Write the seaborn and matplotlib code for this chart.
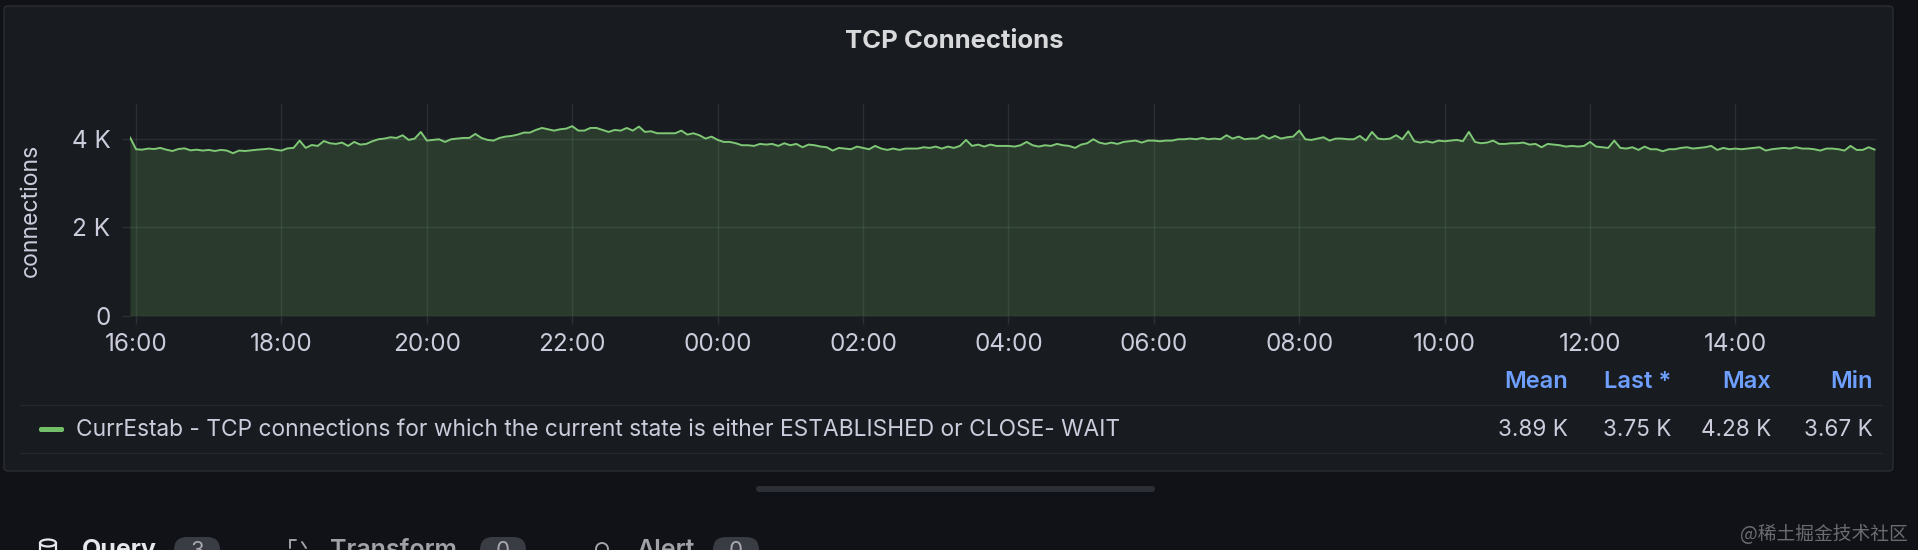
import pandas as pd
import seaborn as sns
import matplotlib.pyplot as plt
import matplotlib.dates as mdates
from matplotlib.patches import FancyBboxPatch, Ellipse, Circle
from matplotlib.lines import Line2D
from matplotlib.ticker import FuncFormatter

# CurrEstab, one value every 5 minutes (15:55 -> 15:55)
conn_evening = [4030, 3760, 3750, 3775, 3765, 3790, 3750, 3720, 3765, 3780,
                3735, 3750, 3730, 3745, 3720, 3745, 3730, 3670, 3730, 3720,
                3735, 3750, 3760, 3775, 3750, 3730, 3780, 3790, 3955, 3790,
                3855, 3835, 3945, 3895, 3880, 3910, 3835, 3925, 3865, 3880,
                3940, 3985, 4000, 4030, 4015, 4075, 3970, 4000]
conn_late = [4150, 3955, 3970, 3985, 3925, 3985, 4000, 4015, 4015, 4105,
             4015, 3970, 3955, 4015, 4045, 4060, 4090, 4135, 4135, 4195,
             4240, 4210, 4180, 4210, 4225, 4280, 4180, 4180, 4240, 4240,
             4195, 4150, 4195, 4180, 4240, 4180, 4270, 4150, 4165, 4120,
             4120, 4120, 4120, 4180, 4090, 4120, 4075, 4000]
conn_night = [4045, 3970, 3925, 3925, 3895, 3850, 3850, 3835, 3880, 3865,
              3880, 3835, 3895, 3850, 3880, 3805, 3865, 3850, 3820, 3805,
              3730, 3790, 3775, 3760, 3820, 3790, 3760, 3835, 3775, 3745,
              3775, 3745, 3775, 3775, 3775, 3805, 3790, 3820, 3775, 3820,
              3790, 3835, 3970, 3835, 3865, 3820, 3865, 3835]
conn_early = [3835, 3835, 3820, 3850, 3925, 3850, 3820, 3850, 3835, 3880,
              3850, 3835, 3790, 3865, 3895, 3985, 3910, 3880, 3910, 3880,
              3925, 3940, 3955, 3910, 3955, 3955, 3940, 3955, 3955, 3985,
              3985, 4000, 3985, 4015, 3985, 4000, 3985, 4075, 4000, 4045,
              3985, 4000, 4000, 4075, 4000, 4060, 4000, 4030]
conn_morning = [4045, 4180, 3985, 3970, 4000, 4030, 3955, 4000, 4000, 3985,
                3985, 4060, 3955, 4150, 4000, 3985, 4000, 4075, 3985, 4165,
                3940, 3910, 3940, 3910, 3955, 3940, 3955, 3970, 3940, 4150,
                3925, 3895, 3910, 3955, 3880, 3880, 3895, 3895, 3910, 3865,
                3880, 3805, 3880, 3865, 3850, 3820, 3835, 3820]
conn_midday = [3835, 3925, 3820, 3805, 3790, 3955, 3790, 3775, 3805, 3745,
               3820, 3760, 3760, 3715, 3760, 3760, 3790, 3805, 3775, 3790,
               3805, 3835, 3745, 3790, 3760, 3775, 3760, 3775, 3790, 3805,
               3730, 3760, 3775, 3790, 3775, 3805, 3775, 3775, 3760, 3730,
               3775, 3775, 3760, 3730, 3835, 3745, 3745, 3805, 3750]

series_name = "CurrEstab - TCP connections for which the current state is either ESTABLISHED or CLOSE- WAIT"
stat_labels = ["Mean", "Last *", "Max", "Min"]
stat_values = ["3.89 K", "3.75 K", "4.28 K", "3.67 K"]
y_ticks = [0, 2000, 4000]
tabs = ["Query", "Transform", "Alert"]
tab_counts = ["3", "0", "0"]

conn = conn_evening + conn_late + conn_night + conn_early + conn_morning + conn_midday
times = pd.date_range("2023-05-01 15:55", periods=len(conn), freq="5min")
df = pd.DataFrame({"time": times, "connections": conn})

BG = "#111217"
PANEL = "#181b1f"
BORDER = "#2a2d33"
TEXT = "#ccccdc"
GREEN = "#73bf69"
BLUE = "#6e9fff"

W, H = 1918, 550

sns.set_theme(style="dark", rc={"axes.facecolor": PANEL, "figure.facecolor": BG})
plt.rcParams["font.family"] = ["Inter", "Noto Sans CJK SC", "DejaVu Sans"]

fig = plt.figure(figsize=(W / 100, H / 100), dpi=100)

# pixel-space canvas for the panel frame, legend table and page chrome
bg = fig.add_axes([0, 0, 1, 1], zorder=0)
bg.set_xlim(0, W)
bg.set_ylim(H, 0)
bg.axis("off")

bg.add_patch(FancyBboxPatch((4, 6), 1889, 465, boxstyle="round,pad=0,rounding_size=4",
                            fc=PANEL, ec=BORDER, lw=1))
bg.text(954, 42, "TCP Connections", ha="center", va="center", fontsize=18.5,
        weight="bold", color="#d8d9da")
bg.text(31, 210, "connections", rotation=90, ha="center", va="center",
        fontsize=16.6, color=TEXT)

# legend table
for yy in (405, 453):
    bg.add_line(Line2D([20, 1882], [yy, yy], color="#25282d", lw=1))
stat_x = [1568, 1671, 1771, 1873]
for lab, val, xr in zip(stat_labels, stat_values, stat_x):
    bg.text(xr, 382, lab, ha="right", va="center", fontsize=17, weight="semibold", color=BLUE)
    bg.text(xr, 430, val, ha="right", va="center", fontsize=16.2, color=TEXT)
bg.add_patch(FancyBboxPatch((39, 427), 25, 5, boxstyle="round,pad=0,rounding_size=2",
                            fc=GREEN, ec="none"))
bg.text(76, 430, series_name, ha="left", va="center", fontsize=16.4, color=TEXT)

# resize handle + editor tabs under the panel
bg.add_patch(FancyBboxPatch((756, 486), 399, 6, boxstyle="round,pad=0,rounding_size=3",
                            fc="#2c2f35", ec="none"))
tab_x = [82, 330, 636]
badge_x = [197, 503, 736]
for name, cnt, tx, bx in zip(tabs, tab_counts, tab_x, badge_x):
    active = name == "Query"
    bg.text(tx, 557, name, ha="left", va="baseline", fontsize=18,
            weight="bold" if active else "semibold",
            color="#e6e7ea" if active else "#a0a2a8")
    bg.add_patch(FancyBboxPatch((bx - 23, 537), 46, 30, boxstyle="round,pad=0,rounding_size=13",
                                fc="#393c42", ec="none"))
    bg.text(bx, 557, cnt, ha="center", va="baseline", fontsize=16, color="#a8aab0")
bg.add_patch(Ellipse((48, 543), 16, 7, fill=False, ec="#e6e7ea", lw=1.6))
bg.add_line(Line2D([40, 40], [543, 552], color="#e6e7ea", lw=1.6))
bg.add_line(Line2D([56, 56], [543, 552], color="#e6e7ea", lw=1.6))
bg.add_line(Line2D([290, 296], [540, 540], color="#a0a2a8", lw=1.4))
bg.add_line(Line2D([290, 290], [540, 548], color="#a0a2a8", lw=1.4))
bg.add_line(Line2D([302, 306], [542, 548], color="#a0a2a8", lw=1.4))
bg.add_patch(Circle((602, 549), 6, fill=False, ec="#a0a2a8", lw=1.4))

bg.text(1908, 534, "@稀土掘金技术社区", ha="right", va="center", fontsize=13.5,
        color="#6a6c71", family=["Noto Sans CJK SC", "DejaVu Sans"])

# the time series itself
ax = fig.add_axes([130 / W, 1 - 316 / H, 1746 / W, 212 / H], zorder=1)
ax.set_facecolor(PANEL)
ax.grid(True, color=TEXT, alpha=0.1, lw=1)
ax.set_axisbelow(True)
ax.fill_between(df["time"], df["connections"], 0, color=GREEN, alpha=0.2, lw=0, zorder=2)
sns.lineplot(data=df, x="time", y="connections", ax=ax, color="#7fc876", linewidth=1.4, zorder=3)

ax.set_xlim(times[0], times[-1] + pd.Timedelta(minutes=1))
ax.set_ylim(0, 4780)
ax.set_yticks(y_ticks)
ax.yaxis.set_major_formatter(FuncFormatter(lambda v, p: "0" if v == 0 else f"{v / 1000:.0f} K"))
ax.xaxis.set_major_locator(mdates.HourLocator(byhour=range(0, 24, 2)))
ax.xaxis.set_major_formatter(mdates.DateFormatter("%H:%M"))
ax.tick_params(bottom=True, left=True, length=6, width=1, color=(0.8, 0.8, 0.86, 0.12),
               labelcolor=TEXT, labelsize=17.5)
ax.tick_params(axis="y", pad=8)
ax.tick_params(axis="x", pad=6.5)
ax.set_xlabel("")
ax.set_ylabel("")
for s in ax.spines.values():
    s.set_visible(False)

fig.savefig("out.png", dpi=100, facecolor=BG)
